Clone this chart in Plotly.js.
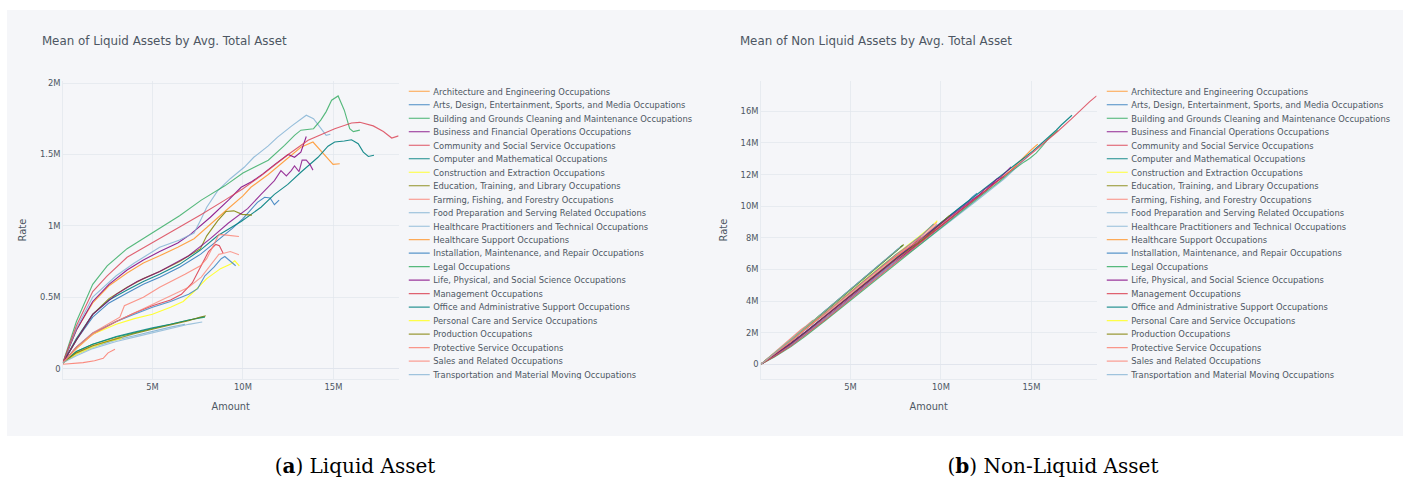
<!DOCTYPE html>
<html>
<head>
<meta charset="utf-8">
<script src="https://cdn.plot.ly/plotly-3.0.1.min.js"></script>
<style>
  body { margin: 0; background: #ffffff; width: 1408px; height: 481px; overflow: hidden; position: relative; }
  .fig { position: absolute; top: 10px; width: 1000px; height: 600px; transform-origin: 0 0; transform: scale(0.698, 0.71); }
  #liquid { left: 7px; }
  #nonliquid { left: 705px; }
  .cap { position: absolute; top: 454px; font-family: "DejaVu Serif", "Liberation Serif", serif; font-size: 20px; color: #000; transform: translateX(-50%); white-space: nowrap; }
</style>
</head>
<body>
<div id="liquid" class="fig"></div>
<div id="nonliquid" class="fig"></div>
<div class="cap" style="left:355px">(<b>a</b>) Liquid Asset</div>
<div class="cap" style="left:1053px">(<b>b</b>) Non-Liquid Asset</div>
<script>
const MILLION = 1e6;

const occupations = [
  'Architecture and Engineering Occupations',
  'Arts, Design, Entertainment, Sports, and Media Occupations',
  'Building and Grounds Cleaning and Maintenance Occupations',
  'Business and Financial Operations Occupations',
  'Community and Social Service Occupations',
  'Computer and Mathematical Occupations',
  'Construction and Extraction Occupations',
  'Education, Training, and Library Occupations',
  'Farming, Fishing, and Forestry Occupations',
  'Food Preparation and Serving Related Occupations',
  'Healthcare Practitioners and Technical Occupations',
  'Healthcare Support Occupations',
  'Installation, Maintenance, and Repair Occupations',
  'Legal Occupations',
  'Life, Physical, and Social Science Occupations',
  'Management Occupations',
  'Office and Administrative Support Occupations',
  'Personal Care and Service Occupations',
  'Production Occupations',
  'Protective Service Occupations',
  'Sales and Related Occupations',
  'Transportation and Material Moving Occupations'
];

// Avg. total asset (millions), mean liquid assets and mean non-liquid assets (millions)
const archTotal = [0.05,0.8,1.7,2.6,3.6,4.5,5.4,6.4,7.3,8,9,10,10.44,11.4,12.7,13.2,13.87,14.5,14.98,15.35];
const archLiquid = [0.04,0.27,0.46,0.58,0.67,0.74,0.79,0.85,0.91,0.99,1.10,1.21,1.27,1.36,1.50,1.55,1.587,1.50,1.43,1.435];
const archNonLiquid = [0.01,0.53,1.24,2.02,2.93,3.76,4.61,5.55,6.39,7.01,7.90,8.79,9.17,10.04,11.20,11.65,12.28,13.00,13.55,13.92];

const artsTotal = [0.05,0.8,1.7,2.6,3.6,4.5,5.4,6.5,7.65,8.6,9.4,10,10.8,11.2,11.5,11.74,12.0];
const artsLiquid = [0.04,0.2,0.36,0.46,0.53,0.59,0.64,0.71,0.80,0.90,0.98,1.05,1.164,1.20,1.195,1.148,1.18];
const artsNonLiquid = [0.01,0.6,1.34,2.14,3.07,3.91,4.76,5.79,6.85,7.7,8.42,8.95,9.64,10.0,10.31,10.59,10.82];

const buildingTotal = [0.05,0.8,1.7,3,4,5,6,7,7.9];
const buildingLiquid = [0.04,0.12,0.17,0.22,0.25,0.28,0.31,0.34,0.36];
const buildingNonLiquid = [0.01,0.68,1.53,2.78,3.75,4.72,5.69,6.66,7.54];

const businessTotal = [0.05,0.8,1.7,2.6,3.6,4.5,5.4,6.4,7.1,8.2,9.2,9.9,10.5,11.1,11.8,12.5,12.85,13.2,13.5];
const businessLiquid = [0.04,0.27,0.47,0.59,0.69,0.76,0.82,0.88,0.94,1.06,1.18,1.27,1.31,1.364,1.434,1.50,1.48,1.516,1.626];
const businessNonLiquid = [0.01,0.53,1.23,2.01,2.91,3.74,4.58,5.52,6.16,7.14,8.02,8.63,9.19,9.74,10.37,11.0,11.37,11.68,11.87];

const communityTotal = [0.05,0.8,1.7,3,4,5,6,6.6,7.2,7.7,8.1,8.5,8.7,8.9];
const communityLiquid = [0.04,0.15,0.24,0.33,0.39,0.44,0.48,0.52,0.60,0.72,0.82,0.87,0.86,0.81];
const communityNonLiquid = [0.01,0.65,1.46,2.67,3.61,4.56,5.52,6.08,6.6,6.98,7.28,7.63,7.84,8.09];

const computerTotal = [0.05,0.8,1.7,2.6,3.6,4.5,5.4,6.5,7.65,8.6,9.9,11,11.74,12.48,13.2,14.15,14.7,15.07,15.6,16.0,16.37,16.65,16.93,17.24];
const computerLiquid = [0.04,0.21,0.38,0.48,0.55,0.61,0.66,0.73,0.83,0.93,1.03,1.13,1.22,1.29,1.375,1.48,1.558,1.587,1.594,1.603,1.575,1.516,1.486,1.494];
const computerNonLiquid = [0.01,0.59,1.32,2.12,3.05,3.89,4.74,5.77,6.82,7.67,8.87,9.87,10.52,11.19,11.83,12.67,13.14,13.48,14.01,14.4,14.8,15.13,15.44,15.75];

const constructionTotal = [0.05,0.8,1.7,3,4,5,6,6.7,7.3,8,8.76,9.3,9.55,9.65,9.8];
const constructionLiquid = [0.04,0.14,0.24,0.31,0.35,0.38,0.43,0.47,0.54,0.63,0.70,0.73,0.755,0.74,0.72];
const constructionNonLiquid = [0.01,0.66,1.46,2.69,3.65,4.62,5.57,6.23,6.76,7.37,8.06,8.57,8.8,8.91,9.08];

const educationTotal = [0.05,0.8,1.7,2.6,3.6,4.5,5.4,6.5,7.65,8,8.6,9.06,9.5,9.95,10.5];
const educationLiquid = [0.04,0.2,0.38,0.49,0.57,0.63,0.68,0.75,0.84,0.93,1.035,1.10,1.105,1.08,1.075];
const educationNonLiquid = [0.01,0.6,1.32,2.11,3.03,3.87,4.72,5.75,6.81,7.07,7.57,7.96,8.4,8.87,9.43];

const farmingTotal = [0.05,0.6,1.17,1.8,2.28,2.55,2.93];
const farmingLiquid = [0.03,0.035,0.042,0.055,0.072,0.11,0.135];
const farmingNonLiquid = [0.02,0.57,1.13,1.75,2.21,2.44,2.8];

const foodTotal = [0.05,0.8,1.7,3,4,5,6,6.8];
const foodLiquid = [0.04,0.10,0.15,0.20,0.23,0.26,0.29,0.31];
const foodNonLiquid = [0.01,0.7,1.55,2.8,3.77,4.74,5.71,6.49];

const practitionersTotal = [0.05,0.8,1.7,3,4,5.4,6.5,7.3,7.7,8.0,8.6,9.3,10.07,10.6,11.4,11.9,12.7,13.5,13.9,14.33,14.6,14.83];
const practitionersLiquid = [0.04,0.28,0.50,0.65,0.74,0.85,0.90,0.95,1.05,1.13,1.245,1.33,1.41,1.48,1.56,1.62,1.70,1.775,1.75,1.68,1.634,1.641];
const practitionersNonLiquid = [0.01,0.52,1.2,2.35,3.26,4.55,5.6,6.35,6.65,6.87,7.36,7.97,8.66,9.12,9.84,10.28,11.0,11.73,12.15,12.65,12.97,13.19];

const supportTotal = [0.05,0.8,1.7,2.5,3.2];
const supportLiquid = [0.04,0.11,0.16,0.19,0.22];
const supportNonLiquid = [0.01,0.69,1.54,2.31,2.98];

const installationTotal = [0.05,0.8,1.7,3,4,5,6,7,7.5,7.9,8.4,8.8,9.0,9.3,9.6];
const installationLiquid = [0.04,0.15,0.25,0.33,0.38,0.43,0.47,0.52,0.56,0.65,0.71,0.77,0.785,0.75,0.72];
const installationNonLiquid = [0.01,0.65,1.45,2.67,3.62,4.57,5.53,6.48,6.94,7.25,7.69,8.03,8.22,8.55,8.88];

const legalTotal = [0.05,0.8,1.7,2.5,3.6,5,6.5,7.7,9,10,10.6,11.4,12.3,12.85,13.2,13.9,14.3,14.6,14.9,15.26,15.6,15.9,16.1,16.46];
const legalLiquid = [0.04,0.33,0.59,0.72,0.84,0.95,1.07,1.18,1.28,1.37,1.41,1.46,1.563,1.634,1.67,1.68,1.74,1.80,1.88,1.91,1.81,1.68,1.66,1.67];
const legalNonLiquid = [0.01,0.47,1.11,1.78,2.76,4.05,5.43,6.52,7.72,8.63,9.19,9.94,10.74,11.22,11.53,12.22,12.56,12.8,13.02,13.35,13.79,14.22,14.44,14.79];

const lifeTotal = [0.05,0.8,1.7,3,4.15,5.4,7,8.2,9.2,10.26,11,11.74,12.1,12.4,12.67,12.85,13.1,13.27,13.5,13.7,13.87];
const lifeLiquid = [0.04,0.2,0.38,0.52,0.61,0.68,0.79,0.91,1.02,1.12,1.22,1.317,1.387,1.35,1.387,1.42,1.38,1.46,1.46,1.43,1.39];
const lifeNonLiquid = [0.01,0.6,1.32,2.48,3.54,4.72,6.21,7.29,8.18,9.14,9.78,10.42,10.71,11.05,11.28,11.43,11.72,11.81,12.04,12.27,12.48];

const managementTotal = [0.05,0.8,1.7,2.5,3.6,5.4,7.7,9,10,11,12,12.5,13.6,15.07,16,16.46,17.2,17.76,18.22,18.6];
const managementLiquid = [0.04,0.30,0.54,0.65,0.78,0.91,1.08,1.18,1.26,1.35,1.45,1.50,1.60,1.68,1.72,1.725,1.70,1.66,1.615,1.63];
const managementNonLiquid = [0.01,0.5,1.16,1.85,2.82,4.49,6.62,7.82,8.74,9.65,10.55,11.0,12.0,13.39,14.28,14.74,15.5,16.1,16.61,16.97];

const officeTotal = [0.05,0.8,1.7,3,4,5,6,7,7.5,7.9];
const officeLiquid = [0.04,0.12,0.17,0.225,0.255,0.285,0.31,0.34,0.355,0.365];
const officeNonLiquid = [0.01,0.68,1.53,2.78,3.75,4.72,5.69,6.66,7.15,7.54];

const personalTotal = [0.05,0.8,1.7,2.5,3.3];
const personalLiquid = [0.04,0.10,0.15,0.19,0.21];
const personalNonLiquid = [0.01,0.7,1.55,2.31,3.09];

const productionTotal = [0.05,0.8,1.7,3,4,5,6,7,7.6,7.95];
const productionLiquid = [0.04,0.11,0.16,0.21,0.245,0.275,0.305,0.335,0.36,0.37];
const productionNonLiquid = [0.01,0.69,1.54,2.79,3.76,4.73,5.7,6.67,7.24,7.58];

const protectiveTotal = [0.05,0.8,1.7,2.5,3.2,3.45,4.5,5.4,6.8,7.65,8.0,8.4,8.67,9.1,9.78];
const protectiveLiquid = [0.04,0.15,0.25,0.31,0.36,0.44,0.50,0.57,0.66,0.72,0.77,0.87,0.94,0.935,0.925];
const protectiveNonLiquid = [0.01,0.65,1.45,2.19,2.84,3.01,4.0,4.83,6.14,6.93,7.23,7.53,7.73,8.17,8.86];

const salesTotal = [0.05,0.8,1.7,3,4,5,6,7,7.7,8.2,8.67,9.0,9.3,9.78];
const salesLiquid = [0.04,0.14,0.24,0.33,0.39,0.45,0.51,0.57,0.64,0.72,0.80,0.81,0.82,0.797];
const salesNonLiquid = [0.01,0.66,1.46,2.67,3.61,4.55,5.49,6.43,7.06,7.48,7.87,8.19,8.48,8.98];

const transportTotal = [0.05,0.8,1.7,3,4,5,6,7,7.75];
const transportLiquid = [0.04,0.09,0.14,0.19,0.22,0.25,0.28,0.31,0.326];
const transportNonLiquid = [0.01,0.71,1.56,2.81,3.78,4.75,5.72,6.69,7.42];

const totals = [archTotal, artsTotal, buildingTotal, businessTotal, communityTotal, computerTotal,
  constructionTotal, educationTotal, farmingTotal, foodTotal, practitionersTotal, supportTotal,
  installationTotal, legalTotal, lifeTotal, managementTotal, officeTotal, personalTotal,
  productionTotal, protectiveTotal, salesTotal, transportTotal];
const liquid = [archLiquid, artsLiquid, buildingLiquid, businessLiquid, communityLiquid, computerLiquid,
  constructionLiquid, educationLiquid, farmingLiquid, foodLiquid, practitionersLiquid, supportLiquid,
  installationLiquid, legalLiquid, lifeLiquid, managementLiquid, officeLiquid, personalLiquid,
  productionLiquid, protectiveLiquid, salesLiquid, transportLiquid];
const nonLiquid = [archNonLiquid, artsNonLiquid, buildingNonLiquid, businessNonLiquid, communityNonLiquid, computerNonLiquid,
  constructionNonLiquid, educationNonLiquid, farmingNonLiquid, foodNonLiquid, practitionersNonLiquid, supportNonLiquid,
  installationNonLiquid, legalNonLiquid, lifeNonLiquid, managementNonLiquid, officeNonLiquid, personalNonLiquid,
  productionNonLiquid, protectiveNonLiquid, salesNonLiquid, transportNonLiquid];

// Line colours: a ten-colour cycle that repeats, shifted by one and a little more transparent each round
const lineColors = [
  'rgba(255,153,51,0.9)', 'rgba(55,128,191,0.9)', 'rgba(50,171,96,0.9)', 'rgba(128,0,128,0.85)', 'rgba(219,64,82,0.9)',
  'rgba(0,128,128,0.9)', 'rgba(255,255,51,1)', 'rgba(128,128,0,0.85)', 'rgba(251,128,114,0.9)', 'rgba(128,177,211,0.9)',
  'rgba(128,177,211,0.82)', 'rgba(255,153,51,0.82)', 'rgba(55,128,191,0.82)', 'rgba(50,171,96,0.82)', 'rgba(128,0,128,0.78)',
  'rgba(219,64,82,0.82)', 'rgba(0,128,128,0.82)', 'rgba(255,255,51,0.9)', 'rgba(128,128,0,0.78)', 'rgba(251,128,114,0.82)',
  'rgba(251,128,114,0.74)', 'rgba(128,177,211,0.74)'
];

const BG = '#F5F6F9', GRID = '#E1E5ED', TEXT = '#4D5663';

function toUnits(arr) { return arr.map(v => v * MILLION); }

function buildTraces(yValues) {
  return occupations.map((name, i) => ({
    type: 'scatter',
    mode: 'lines',
    name: name,
    x: toUnits(totals[i]),
    y: toUnits(yValues[i]),
    line: { color: lineColors[i], width: 1.6 }
  }));
}

function axis(titleText) {
  return {
    title: { text: titleText, font: { color: TEXT, size: 14 }, standoff: 15 },
    tickfont: { color: TEXT, size: 12 },
    gridcolor: GRID,
    zerolinecolor: GRID,
    zerolinewidth: 2,
    linecolor: GRID,
    showgrid: true,
    ticks: '',
    automargin: true
  };
}

function buildLayout(titleText) {
  return {
    width: 1000,
    height: 600,
    paper_bgcolor: BG,
    plot_bgcolor: BG,
    font: { family: '"DejaVu Sans", verdana, arial, sans-serif', color: TEXT, size: 12 },
    title: { text: titleText, x: 0.05, font: { color: TEXT, size: 17 } },
    xaxis: axis('Amount'),
    yaxis: axis('Rate'),
    legend: { bgcolor: BG, font: { color: TEXT, size: 12 } },
    margin: { l: 80, r: 80, t: 100, b: 80 },
    showlegend: true
  };
}

const config = { staticPlot: true, displayModeBar: false };

Plotly.newPlot('liquid', buildTraces(liquid), buildLayout('Mean of Liquid Assets by Avg. Total Asset'), config);
Plotly.newPlot('nonliquid', buildTraces(nonLiquid), buildLayout('Mean of Non Liquid Assets by Avg. Total Asset'), config);
</script>
</body>
</html>
